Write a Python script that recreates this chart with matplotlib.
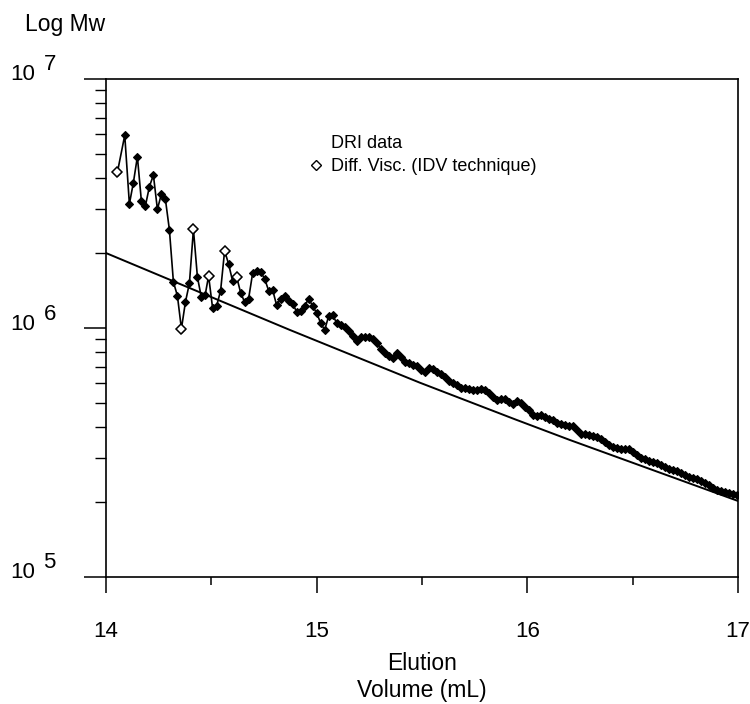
import matplotlib
matplotlib.use("Agg")
import matplotlib.pyplot as plt
import numpy as np
from matplotlib.lines import Line2D
from matplotlib.ticker import LogLocator, NullFormatter, FixedLocator
from matplotlib.transforms import blended_transform_factory, offset_copy

plt.rcParams['font.family'] = ['Liberation Sans', 'DejaVu Sans']

# DRI data: elution volume (mL) and log Mw
volume_peaks = [14.054, 14.089, 14.111, 14.130, 14.149, 14.168, 14.187, 14.206, 14.225, 14.244,
                14.263, 14.282, 14.301, 14.320, 14.339, 14.358, 14.377, 14.396, 14.415, 14.434,
                14.452, 14.471, 14.487, 14.506, 14.525, 14.544, 14.563, 14.582, 14.601, 14.620,
                14.639, 14.658, 14.677, 14.696, 14.715, 14.734, 14.753, 14.772, 14.791, 14.810,
                14.829, 14.848, 14.867]
logmw_peaks = [6.625, 6.774, 6.498, 6.584, 6.688, 6.509, 6.490, 6.568, 6.614, 6.477,
               6.538, 6.517, 6.394, 6.185, 6.129, 5.997, 6.104, 6.180, 6.396, 6.204,
               6.126, 6.134, 6.209, 6.080, 6.088, 6.150, 6.310, 6.257, 6.188, 6.206,
               6.142, 6.104, 6.118, 6.220, 6.230, 6.225, 6.198, 6.150, 6.153, 6.091,
               6.118, 6.129, 6.110]

volume_tail = [14.886, 14.905, 14.924, 14.943, 14.962, 14.981, 15.000, 15.019, 15.038, 15.057,
               15.076, 15.095, 15.114, 15.133, 15.152, 15.171, 15.190, 15.209, 15.228, 15.247,
               15.266, 15.285, 15.304, 15.323, 15.342, 15.361, 15.380, 15.399, 15.418, 15.437,
               15.456, 15.475, 15.494, 15.513, 15.532, 15.551, 15.570, 15.589, 15.608, 15.627,
               15.646, 15.665, 15.684, 15.703, 15.722, 15.741, 15.760, 15.779, 15.798, 15.817,
               15.836, 15.855, 15.874, 15.893, 15.912, 15.931, 15.950, 15.969, 15.988, 16.007,
               16.026, 16.045, 16.064, 16.083, 16.102, 16.121, 16.140, 16.159, 16.178, 16.197,
               16.216, 16.235, 16.254, 16.273, 16.292, 16.311, 16.330, 16.349, 16.368, 16.387,
               16.406, 16.425, 16.444, 16.463, 16.482, 16.501, 16.520, 16.539, 16.558, 16.577,
               16.596, 16.615, 16.634, 16.653, 16.672, 16.691, 16.710, 16.729, 16.748, 16.767,
               16.786, 16.805, 16.824, 16.843, 16.862, 16.881, 16.900, 16.919, 16.938, 16.957,
               16.976, 16.995]
logmw_tail = [6.098, 6.065, 6.070, 6.088, 6.118, 6.088, 6.060, 6.020, 5.992, 6.048,
              6.052, 6.020, 6.014, 6.004, 5.988, 5.968, 5.948, 5.962, 5.964, 5.962,
              5.956, 5.940, 5.916, 5.900, 5.888, 5.880, 5.900, 5.884, 5.863, 5.859,
              5.853, 5.847, 5.831, 5.823, 5.841, 5.837, 5.824, 5.815, 5.803, 5.789,
              5.779, 5.773, 5.761, 5.761, 5.755, 5.753, 5.751, 5.755, 5.751, 5.737,
              5.723, 5.709, 5.713, 5.713, 5.701, 5.695, 5.707, 5.697, 5.683, 5.669,
              5.651, 5.645, 5.649, 5.641, 5.633, 5.629, 5.618, 5.614, 5.612, 5.608,
              5.606, 5.590, 5.576, 5.574, 5.570, 5.568, 5.564, 5.556, 5.544, 5.532,
              5.524, 5.520, 5.516, 5.516, 5.514, 5.502, 5.488, 5.478, 5.472, 5.466,
              5.460, 5.456, 5.448, 5.440, 5.434, 5.430, 5.424, 5.418, 5.408, 5.402,
              5.396, 5.392, 5.386, 5.378, 5.368, 5.357, 5.351, 5.347, 5.343, 5.339,
              5.335, 5.329]

# Diff. Visc. (IDV technique) points shown as open diamonds
idv_volume = [14.054, 14.358, 14.415, 14.487, 14.563, 14.620]
idv_logmw = [6.625, 5.997, 6.396, 6.209, 6.310, 6.206]

# calibration curve
cal_volume = [14.0, 14.873, 15.490, 15.941, 16.202, 17.0]
cal_mw = [2.00e6, 9.82e5, 6.03e5, 4.30e5, 3.55e5, 2.02e5]

x_ticks = [14, 15, 16, 17]
x_minor = [14.5, 15.5, 16.5]
decades = [5, 6, 7]

volume = np.array(volume_peaks + volume_tail)
mw = 10 ** np.array(logmw_peaks + logmw_tail)

fig = plt.figure(figsize=(7.5, 7.04), dpi=100)
ax = fig.add_axes([106 / 750, 1 - 577 / 704, 632 / 750, 498 / 704])

ax.plot(cal_volume, cal_mw, color='black', lw=1.4)
ax.plot(volume, mw, color='black', lw=1.2, marker='D', ms=3.6,
        mfc='black', mec='black', mew=0.8)
ax.plot(idv_volume, 10 ** np.array(idv_logmw), linestyle='none', marker='D', ms=5.5,
        mfc='white', mec='black', mew=1.1, zorder=3)

ax.set_yscale('log')
ax.set_xlim(14, 17)
ax.set_ylim(1e5, 1e7)

# x axis ticks
ax.xaxis.set_major_locator(FixedLocator(x_ticks))
ax.xaxis.set_minor_locator(FixedLocator(x_minor))
ax.tick_params(axis='x', which='major', direction='out', length=11.5, width=1.1,
               labelsize=16, pad=20)
ax.tick_params(axis='x', which='minor', direction='out', length=6, width=1.1)

# y axis ticks (labels drawn by hand below)
ax.yaxis.set_major_locator(LogLocator(base=10, numticks=10))
ax.yaxis.set_minor_locator(LogLocator(base=10, subs=np.arange(2, 10), numticks=20))
ax.yaxis.set_major_formatter(NullFormatter())
ax.yaxis.set_minor_formatter(NullFormatter())
ax.tick_params(axis='y', which='major', direction='out', length=16, width=1.1)
ax.tick_params(axis='y', which='minor', direction='out', length=8, width=1.0)

for side in ['left', 'bottom', 'right', 'top']:
    ax.spines[side].set_linewidth(1.2)

trans = blended_transform_factory(ax.transAxes, ax.transData)
for e in decades:
    ax.text(-0.112, 10 ** e, '10', transform=offset_copy(trans, fig=fig, y=4, units='dots'),
            ha='right', va='center', fontsize=16)
    ax.text(-0.099, 10 ** e, str(e), transform=offset_copy(trans, fig=fig, y=14, units='dots'),
            ha='left', va='center', fontsize=16)

# legend
handles = [Line2D([], [], linestyle='none'),
           Line2D([], [], linestyle='none', marker='D', ms=5.5, mfc='white', mec='black', mew=1.0)]
ax.legend(handles, ['DRI data', 'Diff. Visc. (IDV technique)'], loc='upper left',
          bbox_to_anchor=(0.305, 0.906), frameon=False, fontsize=13,
          handlelength=0.9, handletextpad=0.4, labelspacing=0.35, borderpad=0)

fig.text(25 / 750, 1 - 25 / 704, 'Log Mw', ha='left', va='center', fontsize=16.5)
fig.text(422 / 750, 1 - 664 / 704, 'Elution', ha='center', va='center', fontsize=16.5)
fig.text(422 / 750, 1 - 690 / 704, 'Volume (mL)', ha='center', va='center', fontsize=16.5)

fig.savefig('out.png', dpi=100)
